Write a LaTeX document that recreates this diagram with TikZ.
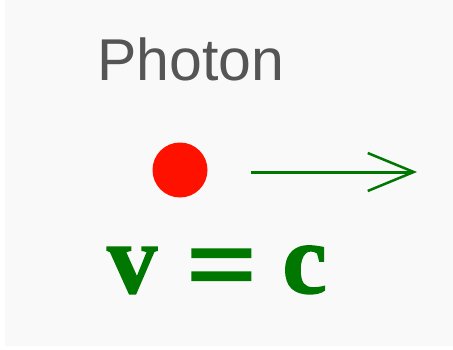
\documentclass[tikz,border=0pt]{standalone}
\usepackage{fontspec}
\setmainfont{Liberation Serif}
\newfontfamily\labelfont{Liberation Sans}
\newfontfamily\formulafont{Liberation Serif}[BoldFont={Liberation Serif Bold},
  BoldFeatures={FakeBold=1.5}]
\usetikzlibrary{arrows.meta,positioning}
\definecolor{bgpaper}{HTML}{F9F9F9}
\definecolor{photonred}{HTML}{FF1100}
\definecolor{speedgreen}{HTML}{007700}
\definecolor{labelgray}{HTML}{555555}

\begin{document}
\begin{tikzpicture}[
  x=1pt, y=1pt,
  title/.style={font=\labelfont\fontsize{59}{59}\selectfont, text=labelgray,
                inner sep=0pt, anchor=base},
  particle/.style={circle, fill=photonred, minimum size=55pt, inner sep=0pt},
  formula/.style={font=\formulafont\bfseries\fontsize{100}{100}\selectfont,
                  text=speedgreen, inner sep=0pt, anchor=base},
  motion/.style={-{Straight Barb[length=46pt, width=38pt, line width=2.5pt]},
                 line width=3pt, color=speedgreen}
]
\useasboundingbox (0,0) rectangle (453,349);
\fill[bgpaper] (5,3) rectangle (453,349);

\node[title] (label) at (191,269) {Photon};
\node[particle] (dot) at (180,179) {};
\coordinate (tail) at (251,177);
\coordinate (head) at (417,177);
\node[formula] (speed) at (217,56)
  {v\hspace{0.04em} \raisebox{-0.1em}{\scalebox{1.25}[1.15]{=}} c};

\draw[motion] (tail) -- (head);
\end{tikzpicture}
\end{document}
